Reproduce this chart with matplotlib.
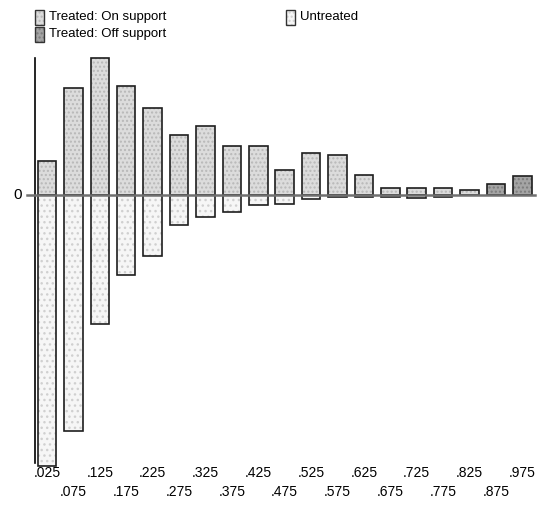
import matplotlib
matplotlib.use("Agg")
import matplotlib.pyplot as plt
from matplotlib.patches import Rectangle
import matplotlib.transforms as mtransforms

plt.rcParams['font.family'] = ['Liberation Sans Narrow', 'Liberation Sans', 'DejaVu Sans']

# propensity score bins (no .925 bin in the data)
bins = ['.025', '.075', '.125', '.175', '.225', '.275', '.325', '.375', '.425', '.475',
        '.525', '.575', '.625', '.675', '.725', '.775', '.825', '.875', '.975']
# treated on support (above zero)
treated_on = [34, 107, 137, 109, 87, 60, 69, 49, 49, 25,
              42, 40, 20, 7, 7, 7, 5, 0, 0]
# treated off support
treated_off = [0, 0, 0, 0, 0, 0, 0, 0, 0, 0,
               0, 0, 0, 0, 0, 0, 0, 11, 19]
# untreated (drawn below zero)
untreated = [271, 236, 129, 80, 61, 30, 22, 17, 10, 9,
             4, 1.5, 1.5, 1.5, 2.6, 1.5, 0, 0, 0]

W, H = 556, 509
fig = plt.figure(figsize=(W / 100, H / 100), dpi=100)
ax = fig.add_axes([35 / W, (H - 467) / H, 500 / W, 410 / H])

x = list(range(len(bins)))
neg = [-u for u in untreated]
bw = 0.7

# fills with a fine dot pattern
ax.bar(x, treated_on, width=bw, color='#dcdcdc', edgecolor='#b8b8b8', hatch='....', linewidth=0, zorder=2)
ax.bar(x, treated_off, width=bw, color='#a4a4a4', edgecolor='#7c7c7c', hatch='....', linewidth=0, zorder=2)
ax.bar(x, neg, width=bw, color='#f6f6f6', edgecolor='#d0d0d0', hatch='...', linewidth=0, zorder=2)
# outlines
for vals in (treated_on, treated_off, neg):
    for xi, v in zip(x, vals):
        if v != 0:
            ax.bar(xi, v, width=bw, fill=False, edgecolor='#1e1e1e', linewidth=1.2, zorder=3)

ax.axhline(0, xmin=-0.016, xmax=1, color='#707070', linewidth=1.8, zorder=4, clip_on=False)

ax.set_xlim(-0.455, 18.48)
ax.set_ylim(-272, 138)
for s in ('top', 'right', 'bottom'):
    ax.spines[s].set_visible(False)
ax.spines['left'].set_bounds(-268, 137)
ax.spines['left'].set_linewidth(1.2)
ax.set_xticks([])
ax.set_yticks([])

trans = mtransforms.blended_transform_factory(ax.transData, ax.transAxes)
for i, lab in enumerate(bins):
    ypos = -0.0146 if i % 2 == 0 else -0.06
    ax.text(i, ypos, lab, transform=trans, ha='center', va='center', fontsize=10)

ax.text(-0.034, 0, '0', transform=mtransforms.blended_transform_factory(ax.transAxes, ax.transData),
        ha='center', va='center', fontsize=11)

# legend drawn by hand
leg = [('Treated: On support', '#dcdcdc', '#b8b8b8', 35, 17),
       ('Treated: Off support', '#a4a4a4', '#7c7c7c', 35, 34),
       ('Untreated', '#f6f6f6', '#d0d0d0', 286, 17)]
for lab, fc, hc, px, py in leg:
    r = Rectangle((px / W, (H - py - 7.5) / H), 9 / W, 15 / H, transform=fig.transFigure,
                  facecolor=fc, edgecolor=hc, hatch='....', linewidth=0)
    fig.patches.append(r)
    r2 = Rectangle((px / W, (H - py - 7.5) / H), 9 / W, 15 / H, transform=fig.transFigure,
                   fill=False, edgecolor='#333333', linewidth=1.0)
    fig.patches.append(r2)
    fig.text((px + 14) / W, (H - py) / H, lab, ha='left', va='center', fontsize=9.5)

fig.savefig('out.png', dpi=100)
